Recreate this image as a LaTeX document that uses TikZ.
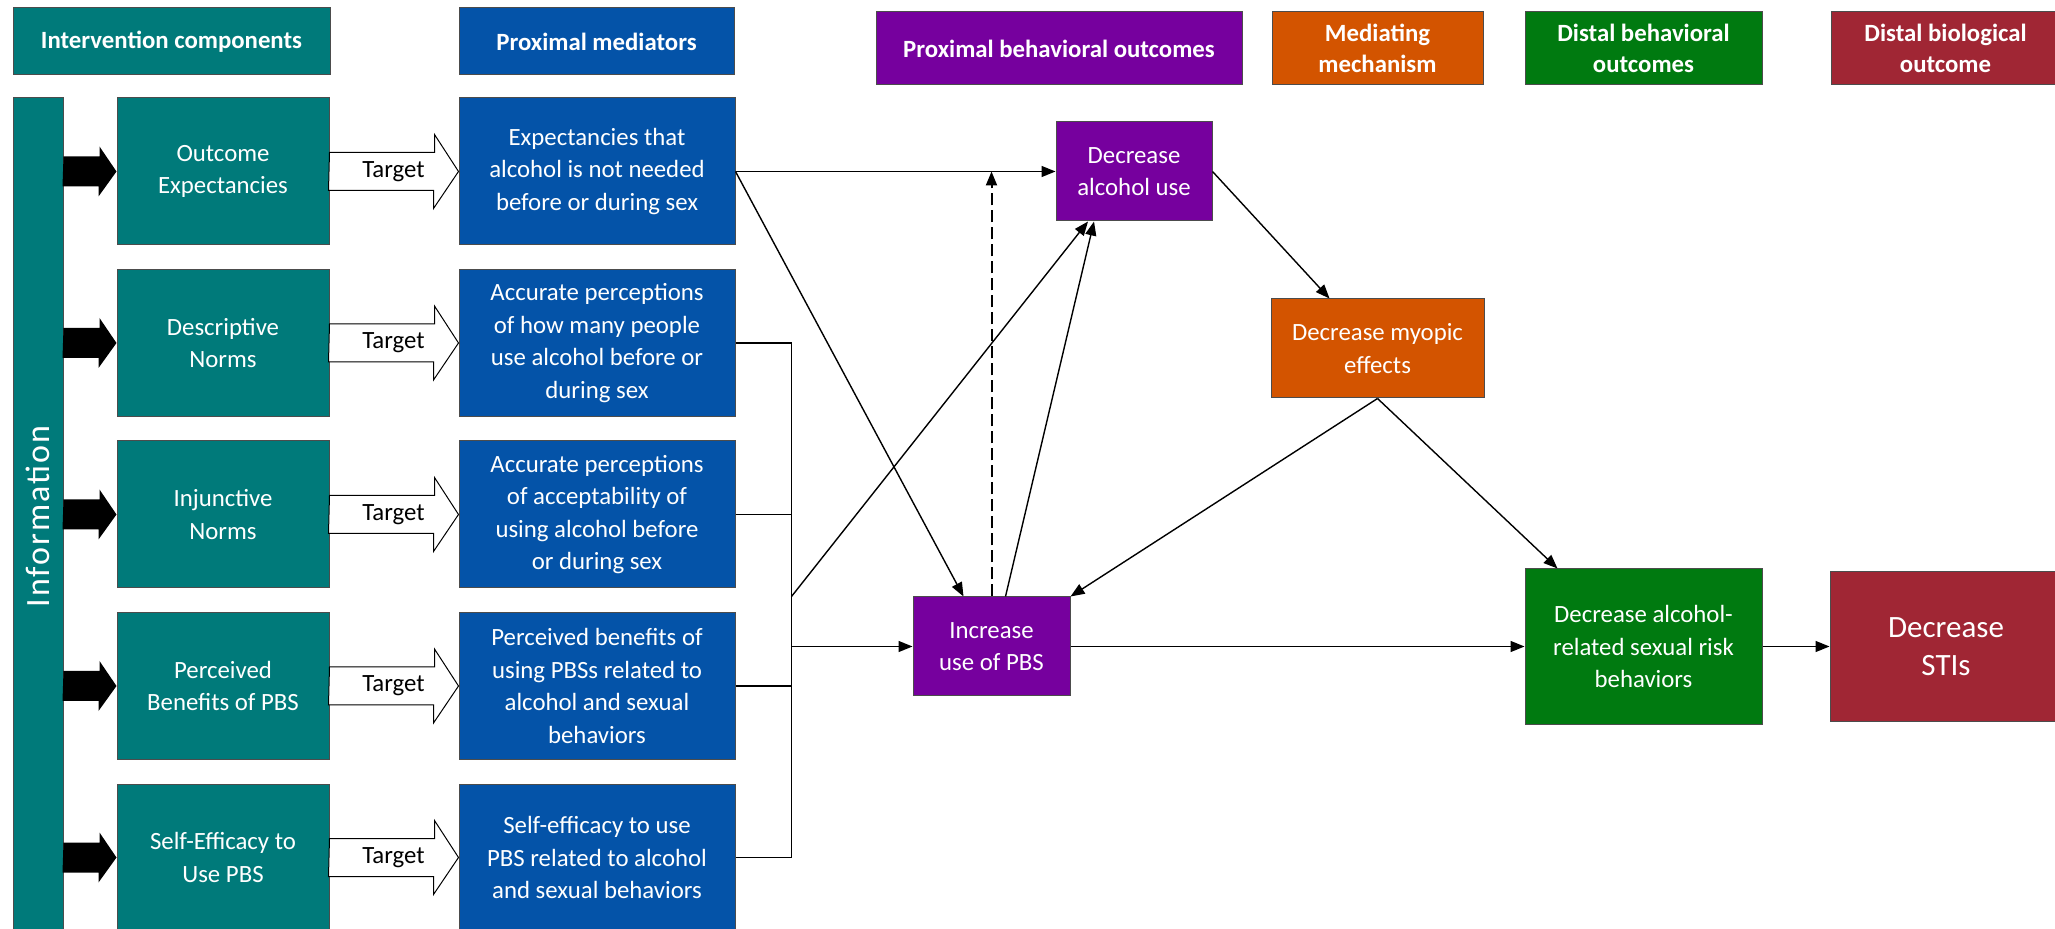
\documentclass[tikz,border=0pt]{standalone}
\usepackage{fontspec}
\setmainfont{Carlito}
\newfontfamily\infofont[LetterSpace=6]{Carlito}
\usetikzlibrary{arrows.meta,positioning}

\definecolor{tealbox}{RGB}{0,122,122}
\definecolor{bluebox}{RGB}{4,83,168}
\definecolor{purplebox}{RGB}{118,0,158}
\definecolor{orangebox}{RGB}{211,84,0}
\definecolor{greenbox}{RGB}{0,122,16}
\definecolor{redbox}{RGB}{160,38,52}

\begin{document}
\begin{tikzpicture}[x=0.5pt, y=-0.5pt,
  box/.style={rectangle, draw=black!70, line width=0.5pt, text=white, align=center,
    inner sep=0pt, font=\fontsize{12.4}{16.3}\selectfont},
  head/.style={box, font=\bfseries\fontsize{12.4}{15.5}\selectfont},
  link/.style={-{Triangle[length=7pt,width=5.5pt]}, line width=0.7pt}]

  \newcommand\Y{171.5}  % row pitch
  \useasboundingbox (0,0) rectangle (2055,929);

  % column headings
  \node[head, fill=tealbox, minimum width=158.5pt, minimum height=33.5pt] (hcomp) at (171.5,41.5) {Intervention components};
  \node[head, fill=bluebox, minimum width=137.5pt, minimum height=33.5pt] (hmed) at (596.5,41.5) {Proximal mediators};
  \node[head, fill=purplebox, minimum width=183pt, minimum height=36.5pt] (hprox) at (1059,48.5) {Proximal behavioral outcomes};
  \node[head, fill=orangebox, minimum width=105.5pt, minimum height=36.5pt] (hmech) at (1377.5,48.5) {Mediating\\mechanism};
  \node[head, fill=greenbox, minimum width=118.5pt, minimum height=36.5pt] (hdist) at (1643.5,48.5) {Distal behavioral\\outcomes};
  \node[head, fill=redbox, minimum width=114.5pt, minimum height=36.5pt] (hbio) at (1945.5,48.5) {Distal biological\\outcome};

  % information bar
  \node[box, fill=tealbox, minimum width=25pt, minimum height=418.5pt] (info) at (38,516.5) {};
  \node[rotate=90, text=white, font=\infofont\fontsize{17}{20}\selectfont] (infotext) at (info) {Information};

  % components and mediators
  \foreach \i/\comp/\med in {
    1/{Outcome\\Expectancies}/{Expectancies that\\alcohol is not needed\\before or during sex},
    2/{Descriptive\\Norms}/{Accurate perceptions\\of how many people\\use alcohol before or\\during sex},
    3/{Injunctive\\Norms}/{Accurate perceptions\\of acceptability of\\using alcohol before\\or during sex},
    4/{Perceived\\Benefits of PBS}/{Perceived benefits of\\using PBSs related to\\alcohol and sexual\\behaviors},
    5/{Self-Efficacy to\\Use PBS}/{Self-efficacy to use\\PBS related to alcohol\\and sexual behaviors}}
  {
    \node[box, fill=tealbox, minimum width=106pt, minimum height=73.5pt] (t\i) at (223,\i*\Y) {\comp};
    \node[box, fill=bluebox, minimum width=138pt, minimum height=73.5pt] (m\i) at (597,\i*\Y) {\med};
    % black arrow
    \fill (info.east |- t\i.west) ++(0,-15) -- ++(36,0) -- ++(0,-10) -- (t\i.west)
      -- ++(-18,25) -- ++(0,-10) -- ++(-36,0) -- cycle;
    % hollow arrow
    \draw[fill=white, line width=0.5pt] (t\i.east) ++(0,-19) -- ++(105,0) -- ++(0,-18) -- (m\i.west)
      -- ++(-25,37) -- ++(0,-18) -- ++(-105,0) -- cycle;
    \node[font=\fontsize{12.4}{15}\selectfont] (tg\i) at ([xshift=32pt]t\i.east) {Target};
  }

  % outcomes
  \node[box, fill=purplebox, minimum width=78pt, minimum height=49.5pt] (alc) at (1134,171.5) {Decrease\\alcohol use};
  \node[box, fill=orangebox, minimum width=106.5pt, minimum height=49.5pt] (myop) at (1377.5,348.5) {Decrease myopic\\effects};
  \node[box, fill=purplebox, minimum width=78.5pt, minimum height=49.5pt] (pbs) at (991.5,646.5) {Increase\\use of PBS};
  \node[box, fill=greenbox, minimum width=118.5pt, minimum height=77.5pt] (risk) at (1643.5,646.5) {Decrease alcohol-\\related sexual risk\\behaviors};
  \node[box, fill=redbox, minimum width=116pt, minimum height=74.5pt, font=\fontsize{15.5}{19}\selectfont] (sti) at (1946,646.5) {Decrease\\STIs};

  % links
  \draw[link] (m1.east) -- (alc.west);
  \draw[link] (m1.east) -- ([xshift=-14pt]pbs.north);
  \draw[line width=0.7pt] (m2.east) -- ++(56,0) coordinate (brk) -- (brk |- m5.east) -- (m5.east);
  \draw[line width=0.7pt] (m3.east) -- (m3.east -| brk);
  \draw[line width=0.7pt] (m4.east) -- (m4.east -| brk);
  \draw[link] (brk |- pbs.west) -- (pbs.west);
  \draw[link] (brk |- pbs.north) -- ([xshift=-23pt]alc.south);
  \draw[link] ([xshift=7pt]pbs.north) -- ([xshift=-20pt]alc.south);
  \draw[link, line width=1pt, dash pattern=on 6pt off 2.5pt] (pbs.north) -- (pbs.north |- alc.west);
  \draw[link] (alc.east) -- ([xshift=-24pt]myop.north);
  \draw[link] (myop.south) -- (pbs.north east);
  \draw[link] (myop.south) -- ([xshift=-43pt]risk.north);
  \draw[link] (pbs.east) -- (risk.west);
  \draw[link] (risk.east) -- (sti.west);
\end{tikzpicture}
\end{document}
